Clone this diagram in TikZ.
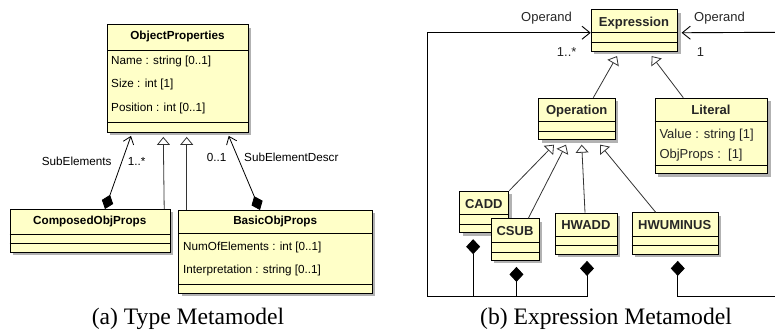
\documentclass[tikz,border=0pt]{standalone}
\usepackage{fontspec}
\setmainfont{Liberation Sans}
\newfontfamily\capfont{Liberation Serif}
\usetikzlibrary{arrows.meta,shadows}

\definecolor{classfill}{RGB}{255,255,200}

\tikzset{
  classbox/.style={draw=black, line width=0.9pt, fill=classfill, anchor=north west, inner sep=0pt,
    drop shadow={shadow xshift=3pt, shadow yshift=-3pt, fill=black!60}},
  sepline/.style={line width=0.9pt},
  ltitle/.style={font=\fontsize{11.7}{14}\selectfont\bfseries, inner sep=0pt, anchor=base},
  lattr/.style={font=\fontsize{11.7}{14}\selectfont, inner sep=0pt, anchor=base west},
  rtitle/.style={font=\fontsize{13}{15}\selectfont\bfseries, inner sep=0pt, anchor=base, text=black!85},
  rattr/.style={font=\fontsize{13}{15}\selectfont, inner sep=0pt, anchor=base west, text=black!85},
  captxt/.style={font=\capfont\fontsize{23.6}{28}\selectfont, inner sep=0pt},
  gen/.style={-{Triangle[open,length=8pt,width=13pt]}, line width=0.8pt, black!80},
  assoc/.style={{Diamond[length=15pt,width=12pt]}-{Straight Barb[length=7pt,width=11pt]}, line width=0.8pt},
  compo/.style={{Diamond[length=15pt,width=14pt]}-, line width=0.9pt},
  operand/.style={{Diamond[length=15pt,width=14pt]}-{Straight Barb[length=8pt,width=13pt]}, line width=0.9pt}
}

\begin{document}
\begin{tikzpicture}[x=1pt,y=-1pt]
  \useasboundingbox (0,0) rectangle (775,331);

  % (a) type metamodel
  \node[classbox, minimum width=141pt, minimum height=107.5pt] (objprops) at (107,24.5) {};
  \draw[sepline] ([yshift=-26.2pt]objprops.north west) -- ([yshift=-26.2pt]objprops.north east);
  \draw[sepline] ([yshift=-98.2pt]objprops.north west) -- ([yshift=-98.2pt]objprops.north east);
  \node[ltitle] (objpropsT) at (177.5,39.2) {ObjectProperties};
  \node[lattr] (objpropsA) at (111,64.7) {Name : string [0..1]};
  \node[lattr] (objpropsB) at (111,87.9) {Size : int [1]};
  \node[lattr] (objpropsC) at (111,111.2) {Position : int [0..1]};

  \node[classbox, minimum width=160.5pt, minimum height=43pt] (composed) at (9.5,209) {};
  \draw[sepline] ([yshift=-25pt]composed.north west) -- ([yshift=-25pt]composed.north east);
  \draw[sepline] ([yshift=-34pt]composed.north west) -- ([yshift=-34pt]composed.north east);
  \node[ltitle] (composedT) at (89.75,224) {ComposedObjProps};

  \node[classbox, minimum width=193.7pt, minimum height=83pt] (basic) at (178.3,210) {};
  \draw[sepline] ([yshift=-23pt]basic.north west) -- ([yshift=-23pt]basic.north east);
  \draw[sepline] ([yshift=-74pt]basic.north west) -- ([yshift=-74pt]basic.north east);
  \node[ltitle] (basicT) at (275.2,224.2) {BasicObjProps};
  \node[lattr] (basicA) at (183,250.2) {NumOfElements : int [0..1]};
  \node[lattr] (basicB) at (183,273.5) {Interpretation : string [0..1]};

  \draw[assoc] ([xshift=95.5pt]composed.north west) -- ([xshift=24pt,yshift=-3pt]objprops.south west);
  \draw[gen] ([xshift=-6.7pt]composed.north east) -- ([xshift=56.3pt,yshift=-4pt]objprops.south west);
  \draw[gen] ([xshift=8.4pt]basic.north west) -- ([xshift=79.7pt,yshift=-4pt]objprops.south west);
  \draw[assoc] ([xshift=81.7pt]basic.north west) -- ([xshift=121.7pt,yshift=-3pt]objprops.south west);

  \node[lattr, anchor=base east] (subelL) at (111.7,165.9) {SubElements};
  \node[lattr] (subelM) at (127.7,165.9) {1..*};
  \node[lattr, anchor=base east] (descrM) at (226.7,161.9) {0..1};
  \node[lattr] (descrL) at (244,161.9) {SubElementDescr};

  \node[captxt] (capA) at (188,319) {(a) Type Metamodel};

  % (b) expression metamodel
  \node[classbox, minimum width=86.6pt, minimum height=41.4pt] (expr) at (590.7,9.3) {};
  \draw[sepline] ([yshift=-23pt]expr.north west) -- ([yshift=-23pt]expr.north east);
  \draw[sepline] ([yshift=-33pt]expr.north west) -- ([yshift=-33pt]expr.north east);
  \node[rtitle] (exprT) at (634,26.3) {Expression};

  \node[classbox, minimum width=76.7pt, minimum height=41.6pt] (oper) at (538.3,97.7) {};
  \draw[sepline] ([yshift=-24pt]oper.north west) -- ([yshift=-24pt]oper.north east);
  \draw[sepline] ([yshift=-33.3pt]oper.north west) -- ([yshift=-33.3pt]oper.north east);
  \node[rtitle] (operT) at (576.7,114.7) {Operation};

  \node[classbox, minimum width=112.5pt, minimum height=75.6pt] (literal) at (654.7,97.7) {};
  \draw[sepline] ([yshift=-24pt]literal.north west) -- ([yshift=-24pt]literal.north east);
  \draw[sepline] ([yshift=-67.3pt]literal.north west) -- ([yshift=-67.3pt]literal.north east);
  \node[rtitle] (literalT) at (710.9,114.7) {Literal};
  \node[rattr] (literalA) at (659.3,139) {Value : string [1]};
  \node[rattr] (literalB) at (659.3,159) {ObjProps :\ \ [1]};

  \node[classbox, minimum width=49pt, minimum height=41.6pt] (cadd) at (459.3,190.7) {};
  \draw[sepline] ([yshift=-23.6pt]cadd.north west) -- ([yshift=-23.6pt]cadd.north east);
  \draw[sepline] ([yshift=-33.6pt]cadd.north west) -- ([yshift=-33.6pt]cadd.north east);
  \node[rtitle] (caddT) at (483.8,208) {CADD};

  \node[classbox, minimum width=48pt, minimum height=41.7pt] (csub) at (491,218.3) {};
  \draw[sepline] ([yshift=-24.4pt]csub.north west) -- ([yshift=-24.4pt]csub.north east);
  \draw[sepline] ([yshift=-34pt]csub.north west) -- ([yshift=-34pt]csub.north east);
  \node[rtitle] (csubT) at (515,235.3) {CSUB};

  \node[classbox, minimum width=61.7pt, minimum height=41.3pt] (hwadd) at (555,212.7) {};
  \draw[sepline] ([yshift=-24pt]hwadd.north west) -- ([yshift=-24pt]hwadd.north east);
  \draw[sepline] ([yshift=-33pt]hwadd.north west) -- ([yshift=-33pt]hwadd.north east);
  \node[rtitle] (hwaddT) at (585.9,229.7) {HWADD};

  \node[classbox, minimum width=86pt, minimum height=41.7pt] (hwumin) at (631.7,212.3) {};
  \draw[sepline] ([yshift=-23.7pt]hwumin.north west) -- ([yshift=-23.7pt]hwumin.north east);
  \draw[sepline] ([yshift=-33.4pt]hwumin.north west) -- ([yshift=-33.4pt]hwumin.north east);
  \node[rtitle] (hwuminT) at (674.7,229) {HWUMINUS};

  % generalizations
  \draw[gen] ([xshift=55pt]oper.north west) -- ([xshift=26.3pt,yshift=-4.5pt]expr.south west);
  \draw[gen] ([xshift=28.6pt]literal.north west) -- ([xshift=61pt,yshift=-4.5pt]expr.south west);
  \draw[gen] (cadd.north east) -- ([xshift=15.7pt,yshift=-4.5pt]oper.south west);
  \draw[gen] ([xshift=37.3pt]csub.north west) -- ([xshift=27.7pt,yshift=-4.5pt]oper.south west);
  \draw[gen] ([xshift=30pt]hwadd.north west) -- ([xshift=43.4pt,yshift=-4.5pt]oper.south west);
  \draw[gen] ([xshift=24pt]hwumin.north west) -- ([xshift=61.7pt,yshift=-4.5pt]oper.south west);

  % operand compositions
  \coordinate (botleft) at (427.3,296);
  \coordinate (edgebot) at (776,296);
  \coordinate (edgetop) at (776,32.3);
  \coordinate (caddD) at ([xshift=-11.1pt,yshift=-6pt]cadd.south);
  \coordinate (csubD) at ([xshift=1pt,yshift=-6pt]csub.south);
  \draw[operand] ([xshift=0.7pt,yshift=-6pt]hwadd.south) |- (botleft) |- ([yshift=-2.3pt]expr.west);
  \draw[compo] (caddD) -- (caddD |- botleft);
  \draw[compo] (csubD) -- (csubD |- botleft);
  \draw[compo] ([xshift=2.6pt,yshift=-6pt]hwumin.south) |- (edgebot);
  \draw[-{Straight Barb[length=8pt,width=13pt]}, line width=0.9pt] (edgetop) -- ([xshift=3.4pt,yshift=-2.3pt]expr.east);

  \node[rattr, anchor=base east] (operandL) at (572,22) {Operand};
  \node[rattr] (operandR) at (694,22) {Operand};
  \node[rattr, anchor=base east] (multL) at (576.7,56.3) {1..*};
  \node[rattr] (multR) at (696.7,56.3) {1};

  \node[captxt] (capB) at (606,319) {(b) Expression Metamodel};
\end{tikzpicture}
\end{document}
